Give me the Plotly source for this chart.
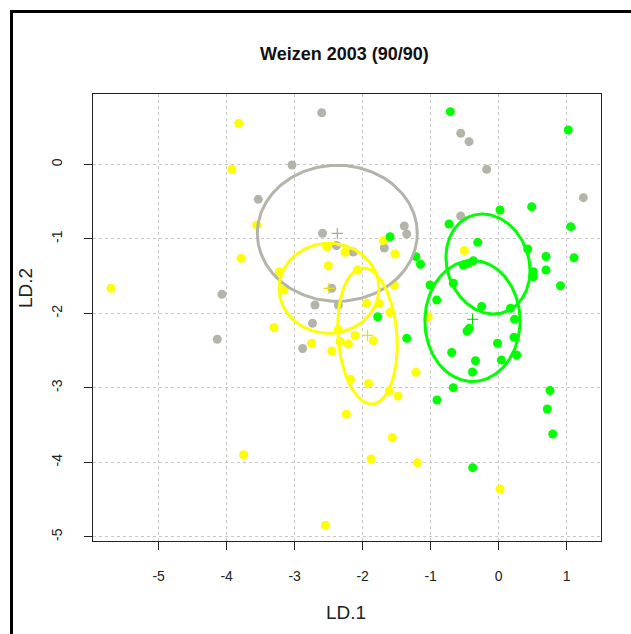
import numpy as np
import plotly.graph_objects as go

# --- discriminant scores (LD.1, LD.2) per group ---
gray_x = [-2.601, -3.038, -3.534, -2.590, -2.384, -2.137, -1.387, -1.351, -1.681, -0.557,
          -0.435, -0.175, 1.246, -0.557, -4.068, -2.454, -2.700, -2.357, -2.737, -2.881, -4.137]
gray_y = [0.694, -0.008, -0.469, -0.925, -1.089, -1.176, -0.827, -0.934, -1.122, 0.418,
          0.305, -0.066, -0.447, -0.693, -1.744, -1.664, -1.888, -1.888, -2.133, -2.472, -2.348]

yellow_x = [-3.822, -3.921, -3.557, -3.788, -5.700, -2.528, -2.259, -2.504, -2.075, -3.225,
            -3.156, -1.696, -1.524, -1.940, -1.754, -1.597, -1.534, -1.034, -3.303, -2.357,
            -2.332, -2.210, -2.454, -1.843, -2.112, -2.749, -1.215, -2.178, -1.913, -1.607,
            -1.479, -2.240, -1.563, -3.749, -1.876, -1.196, 0.021, -2.549, -0.504]
yellow_y = [0.552, -0.066, -0.814, -1.261, -1.664, -1.105, -1.180, -1.361, -1.418, -1.441,
            -1.686, -1.024, -1.203, -1.865, -1.865, -1.988, -1.619, -2.045, -2.190, -2.223,
            -2.381, -2.411, -2.505, -2.367, -2.297, -2.402, -2.791, -2.884, -2.942, -3.038,
            -3.110, -3.354, -3.669, -3.898, -3.955, -4.005, -4.358, -4.846, -1.156]

green_x = [-0.710, 1.025, 0.021, 0.487, -0.729, 1.060, -1.597, -0.307, 0.428, -1.215,
           -1.149, 0.697, 1.109, 0.697, -0.519, -0.446, -0.372, 0.510, 0.510, 0.910,
           -0.666, -1.009, -0.910, -0.249, 0.175, -1.778, 0.234, -0.431, -0.465, -1.351,
           0.226, -0.016, -0.690, 0.266, 0.040, -0.340, -0.384, -0.666, -0.906, 0.756,
           0.716, 0.796, -0.381]
green_y = [0.708, 0.462, -0.612, -0.568, -0.800, -0.836, -0.971, -1.046, -1.136, -1.239,
           -1.341, -1.237, -1.253, -1.418, -1.351, -1.328, -1.293, -1.441, -1.508, -1.629,
           -1.596, -1.619, -1.821, -1.908, -1.932, -2.045, -2.080, -2.201, -2.237, -2.335,
           -2.321, -2.402, -2.526, -2.559, -2.626, -2.636, -2.787, -2.998, -3.163, -3.036,
           -3.284, -3.620, -4.072]

GRAY = "#B4B4AA"
YELLOW = "#FFFF00"
GREEN = "#00FF00"

# --- group ellipses: centre and axis vectors (cx, cy, a11, a12, a21, a22) ---
ellipse_colors = [GRAY, YELLOW, YELLOW, GREEN, GREEN]
ellipse_cx = [-2.372, -2.494, -1.928, -0.156, -0.384]
ellipse_cy = [-0.925, -1.664, -2.304, -1.337, -2.103]
ellipse_a11 = [1.176, 0.735, 0.434, 0.618, 0.700]
ellipse_a12 = [0.0, 0.0, -0.060, 0.0, 0.0]
ellipse_a21 = [0.0, 0.0, 0.0, -0.090, 0.0]
ellipse_a22 = [0.913, 0.604, 0.913, 0.665, 0.812]

# --- group centroid marks ---
centroid_x = [-2.372, -2.494, -1.928, -0.381]
centroid_y = [-0.925, -1.664, -2.295, -2.079]
centroid_colors = ["#A8A89E", "#E6E600", "#E6E600", "#00CC00"]

x_ticks = [-5, -4, -3, -2, -1, 0, 1]
y_ticks = [0, -1, -2, -3, -4, -5]

W, H = 631, 634
L, R, T, B = 93, 30, 94, 93
PW, PH = W - L - R, H - T - B
FONT = "Liberation Sans, Arial, sans-serif"


def px_x(px):
    return (px - L) / PW


def px_y(py):
    return (H - B - py) / PH


fig = go.Figure()

for xs, ys, col in [(gray_x, gray_y, GRAY), (yellow_x, yellow_y, YELLOW), (green_x, green_y, GREEN)]:
    fig.add_trace(go.Scatter(x=xs, y=ys, mode="markers",
                             marker=dict(color=col, size=9, line=dict(width=0)),
                             hoverinfo="x+y", showlegend=False))

t = np.linspace(0, 2 * np.pi, 240)
for i, col in enumerate(ellipse_colors):
    ex = ellipse_cx[i] + ellipse_a11[i] * np.cos(t) + ellipse_a12[i] * np.sin(t)
    ey = ellipse_cy[i] + ellipse_a21[i] * np.cos(t) + ellipse_a22[i] * np.sin(t)
    fig.add_trace(go.Scatter(x=ex, y=ey, mode="lines", line=dict(color=col, width=3),
                             hoverinfo="skip", showlegend=False))

for cx, cy, col in zip(centroid_x, centroid_y, centroid_colors):
    fig.add_trace(go.Scatter(x=[cx], y=[cy], mode="markers",
                             marker=dict(symbol="cross-thin", size=8, line=dict(color=col, width=1.2)),
                             hoverinfo="skip", showlegend=False))

axis_common = dict(
    showgrid=True, gridcolor="#C8C8C8", griddash="dot", gridwidth=1,
    zeroline=False, showline=True, linecolor="#222222", linewidth=1, mirror=True,
    ticks="outside", ticklen=8, tickwidth=1, tickcolor="#222222",
    tickfont=dict(family=FONT, size=14, color="#222222"),
)

fig.update_xaxes(range=[(L - 498.6) / 68.0, (L + PW - 498.6) / 68.0],
                 tickvals=x_ticks, ticktext=[str(v) for v in x_ticks],
                 ticklabelstandoff=14, **axis_common)
fig.update_yaxes(range=[(164.4 - (T + PH)) / 74.48, (164.4 - T) / 74.48],
                 tickvals=y_ticks, ticktext=[str(v) for v in y_ticks],
                 tickangle=-90, ticklabelstandoff=16, **axis_common)

fig.add_annotation(text="<b>Weizen 2003 (90/90)</b>", xref="paper", yref="paper",
                   x=px_x(344), y=px_y(54), xanchor="center", yanchor="middle", showarrow=False,
                   font=dict(family=FONT, size=18, color="#111111"))
fig.add_annotation(text="LD.1", xref="paper", yref="paper",
                   x=px_x(346), y=px_y(612), xanchor="center", yanchor="middle", showarrow=False,
                   font=dict(family=FONT, size=19, color="#222222"))
fig.add_annotation(text="LD.2", xref="paper", yref="paper", textangle=-90,
                   x=px_x(25), y=px_y(288), xanchor="center", yanchor="middle", showarrow=False,
                   font=dict(family=FONT, size=19, color="#222222"))

# outer frame of the device region
fig.add_shape(type="rect", xref="paper", yref="paper", layer="above",
              x0=px_x(11.5), x1=px_x(700), y0=px_y(700), y1=px_y(11.5),
              line=dict(color="black", width=3), fillcolor="rgba(0,0,0,0)")

fig.update_layout(width=W, height=H, margin=dict(l=L, r=R, t=T, b=B),
                  plot_bgcolor="white", paper_bgcolor="white")

fig.write_html("out.html")
